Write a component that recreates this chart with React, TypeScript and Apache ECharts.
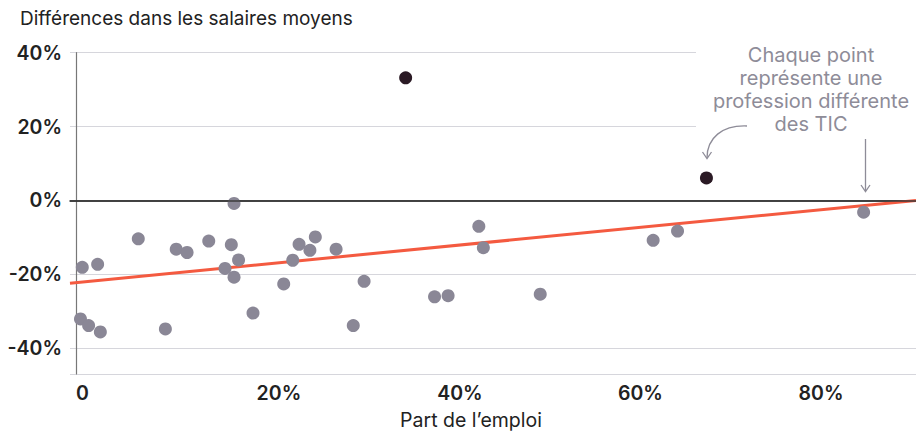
import React, { useEffect, useRef } from "react";
import * as echarts from "echarts";

// Share of employment (%) and difference in mean wages (%) for each ICT occupation
const shareX = [0.7, 2.4, 6.9, 11.1, 12.3, 14.7, 17.2, 17.5, 18.0, 16.5, 17.5, 0.5, 1.4, 2.7, 9.9, 19.6, 23.0, 24.0, 24.7, 25.9, 26.5, 28.8, 30.7, 31.9, 39.7, 41.2, 44.6, 45.1, 51.4, 63.9, 66.6, 87.2];
const wageY = [-18.1, -17.3, -10.4, -13.2, -14.1, -11.0, -12.0, -0.8, -16.1, -18.4, -20.8, -32.1, -33.9, -35.6, -34.8, -30.5, -22.6, -16.2, -11.9, -13.5, -9.9, -13.2, -33.9, -21.9, -26.1, -25.8, -7.0, -12.8, -25.4, -10.8, -8.3, -3.2];
const highlightX = [36.5, 69.8];
const highlightY = [33.2, 6.1];
const trendX = [-0.66, 93];
const trendY = [-22.4, 0];
const yTicks = [-40, -20, 0, 20, 40];
const xTicks = [0, 20, 40, 60, 80];

const titleText = "Différences dans les salaires moyens";
const xAxisName = "Part de l’emploi";
const noteText = "Chaque point\nreprésente une\nprofession différente\ndes TIC";

const FONT = "Inter, 'Open Sans', sans-serif";
const GREY = "#8a8796";
const NOTE = "#8e8c98";

export default function App() {
  const ref = useRef<HTMLDivElement>(null);
  useEffect(() => {
    document.body.style.margin = "0";
    if (!ref.current) return;
    const chart = echarts.init(ref.current, undefined, { renderer: "svg" });
    const option: any = {
      animation: false,
      backgroundColor: "#ffffff",
      textStyle: { fontFamily: FONT },
      title: {
        text: titleText,
        left: 20,
        top: 9,
        padding: 0,
        textStyle: { fontFamily: FONT, fontSize: 19, fontWeight: 400, color: "#222222" },
      },
      grid: { left: 70, right: 0, top: 52.7, bottom: 58.3, containLabel: false },
      xAxis: {
        type: "value",
        min: -0.66,
        max: 93,
        name: xAxisName,
        nameLocation: "middle",
        nameGap: 36,
        nameTextStyle: { fontFamily: FONT, fontSize: 19.5, color: "#222222", padding: [0, 44, 0, 0] },
        axisLine: { show: true, lineStyle: { color: "#2a2a2a", width: 1.5 } },
        axisTick: { show: false },
        splitLine: { show: false },
        axisLabel: {
          margin: 9,
          align: "left",
          fontFamily: FONT,
          fontSize: 19.5,
          fontWeight: 600,
          color: "#222222",
          showMinLabel: false,
          showMaxLabel: false,
          formatter: (v: number) => {
            const r = Math.round(v);
            if (Math.abs(v - r) > 1e-6 || !xTicks.includes(r)) return "";
            return r === 0 ? "0" : r + "%";
          },
        },
      },
      yAxis: {
        type: "value",
        min: -47,
        max: 40,
        splitNumber: 5,
        axisLine: { show: true, lineStyle: { color: "#777777", width: 1.2 } },
        axisTick: { show: false },
        splitLine: { show: true, lineStyle: { color: "#d6d6dc", width: 1.2 } },
        axisLabel: {
          margin: 8,
          fontFamily: FONT,
          fontSize: 19.5,
          fontWeight: 600,
          color: "#222222",
          formatter: (v: number) => {
            const r = Math.round(v);
            if (Math.abs(v - r) > 1e-6 || !yTicks.includes(r)) return "";
            return r + "%";
          },
        },
      },
      series: [
        {
          type: "line",
          data: trendX.map((x, i) => [x, trendY[i]]),
          symbol: "none",
          lineStyle: { color: "#f45a40", width: 3 },
          z: 3,
          silent: true,
        },
        {
          type: "scatter",
          data: shareX.map((x, i) => [x, wageY[i]]),
          symbolSize: 13,
          itemStyle: { color: GREY, opacity: 1 },
          z: 4,
          markLine: {
            silent: true,
            symbol: "none",
            label: { show: false },
            lineStyle: { color: "#3a3a3a", width: 1.5, type: "solid" },
            data: [{ yAxis: 0 }],
          },
        },
        {
          type: "scatter",
          data: highlightX.map((x, i) => [x, highlightY[i]]),
          symbolSize: 13,
          itemStyle: { color: "#2b1a25", opacity: 1 },
          z: 5,
        },
      ],
      graphic: [
        {
          type: "rect",
          z: 100,
          shape: { x: 696, y: 38, width: 220, height: 100 },
          style: { fill: "#ffffff" },
          silent: true,
        },
        {
          type: "text",
          z: 101,
          x: 811,
          y: 43,
          style: {
            text: noteText,
            fontFamily: FONT,
            fontSize: 20,
            lineHeight: 23,
            fill: NOTE,
            align: "center",
            verticalAlign: "top",
          },
        },
        {
          type: "bezierCurve",
          z: 101,
          shape: { x1: 747, y1: 126, cpx1: 722, cpy1: 125, cpx2: 707, cpy2: 138, x2: 707, y2: 158 },
          style: { stroke: NOTE, lineWidth: 1.3, fill: "none" },
        },
        {
          type: "polyline",
          z: 101,
          shape: { points: [[702.5, 152], [707, 158.5], [711.5, 152]] },
          style: { stroke: NOTE, lineWidth: 1.3, fill: "none" },
        },
        {
          type: "line",
          z: 101,
          shape: { x1: 865.5, y1: 139, x2: 865.5, y2: 191 },
          style: { stroke: NOTE, lineWidth: 1.3 },
        },
        {
          type: "polyline",
          z: 101,
          shape: { points: [[861, 185], [865.5, 191.5], [870, 185]] },
          style: { stroke: NOTE, lineWidth: 1.3, fill: "none" },
        },
      ],
    };
    chart.setOption(option);
    return () => chart.dispose();
  }, []);
  return <div ref={ref} style={{ width: 916, height: 435 }} />;
}
